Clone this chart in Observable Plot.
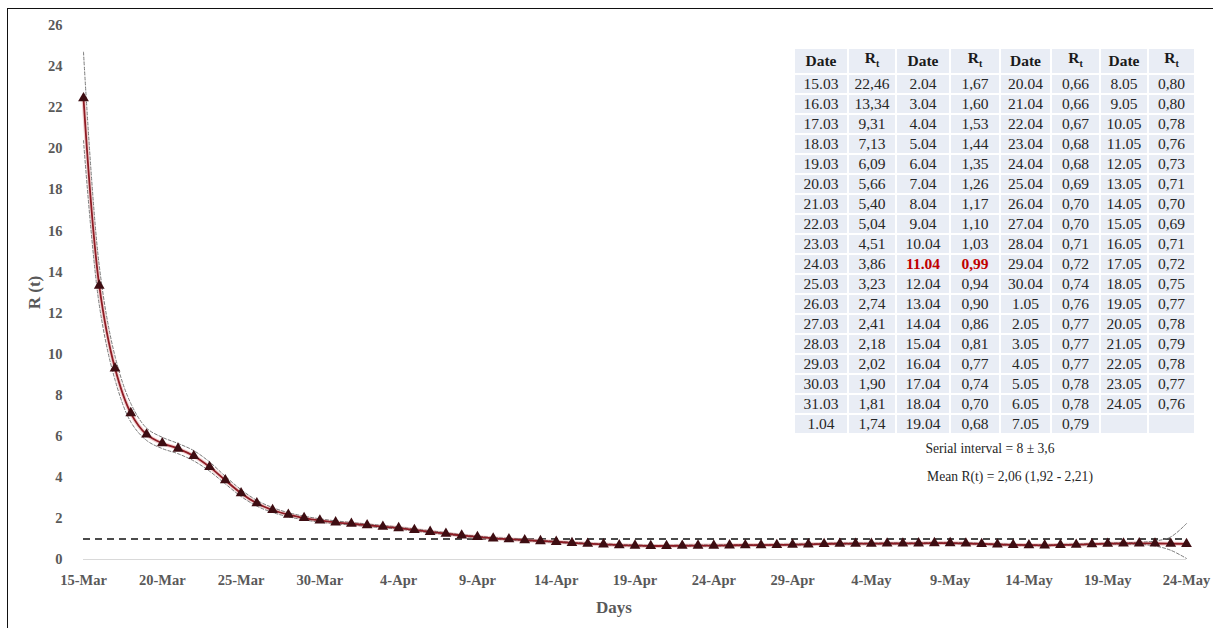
<!DOCTYPE html>
<html>
<head>
<meta charset="utf-8">
<script src="https://cdn.jsdelivr.net/npm/d3@7"></script>
<script src="https://cdn.jsdelivr.net/npm/@observablehq/plot@0.6"></script>
<style>
  html, body { margin: 0; padding: 0; background: #fff; }
  #wrap { position: relative; width: 1213px; height: 628px; overflow: hidden; font-family: "Liberation Serif", "Times New Roman", serif; }
  #frame { position: absolute; left: 7px; top: 8px; width: 1300px; height: 700px; border-left: 1.5px solid #111; border-top: 1.5px solid #111; pointer-events: none; }
  #chart { position: absolute; left: 0; top: 0; }
  #tbl { position: absolute; left: 793px; top: 47px; border-collapse: separate; border-spacing: 2px; font-family: "Liberation Serif", serif; font-size: 15.5px; color: #262626; }
  #tbl td, #tbl th { background: #e9edf5; text-align: center; height: 18px; padding: 0; line-height: 18px; }
  #tbl th { font-weight: bold; color: #1a1a1a; }
  #tbl td.hl { color: #c00000; font-weight: bold; }
  .note { position: absolute; font-family: "Liberation Serif", serif; font-size: 13.6px; color: #262626; white-space: nowrap; transform: translateX(-50%); }
</style>
</head>
<body>
<div id="wrap">
  <div id="chart"></div>
  <table id="tbl"></table>
  <div class="note" style="left:990px; top:441px;">Serial interval = 8 ± 3,6</div>
  <div class="note" style="left:1010px; top:469px;">Mean R(t) = 2,06 (1,92 - 2,21)</div>
  <div id="frame"></div>
</div>
<script>
// ---- data ----
const dateLabels = [
  "15.03","16.03","17.03","18.03","19.03","20.03","21.03","22.03","23.03","24.03","25.03","26.03","27.03","28.03","29.03","30.03","31.03","1.04",
  "2.04","3.04","4.04","5.04","6.04","7.04","8.04","9.04","10.04","11.04","12.04","13.04","14.04","15.04","16.04","17.04","18.04","19.04",
  "20.04","21.04","22.04","23.04","24.04","25.04","26.04","27.04","28.04","29.04","30.04","1.05","2.05","3.05","4.05","5.05","6.05","7.05",
  "8.05","9.05","10.05","11.05","12.05","13.05","14.05","15.05","16.05","17.05","18.05","19.05","20.05","21.05","22.05","23.05","24.05"
];
const rt = [
  22.46,13.34,9.31,7.13,6.09,5.66,5.40,5.04,4.51,3.86,3.23,2.74,2.41,2.18,2.02,1.90,1.81,1.74,
  1.67,1.60,1.53,1.44,1.35,1.26,1.17,1.10,1.03,0.99,0.94,0.90,0.86,0.81,0.77,0.74,0.70,0.68,
  0.66,0.66,0.67,0.68,0.68,0.69,0.70,0.70,0.71,0.72,0.74,0.76,0.77,0.77,0.77,0.78,0.78,0.79,
  0.80,0.80,0.78,0.76,0.73,0.71,0.70,0.69,0.71,0.72,0.75,0.77,0.78,0.79,0.78,0.77,0.76
];
const upperCI = [
  24.7,14.3,9.9,7.6,6.4,5.95,5.65,5.3,4.75,4.05,3.4,2.88,2.53,2.28,2.11,1.98,1.88,
  1.80,1.73,1.66,1.58,1.49,1.40,1.31,1.21,1.14,1.07,1.03,0.97,0.93,0.89,0.84,0.80,0.77,0.73,0.71,
  0.69,0.69,0.70,0.71,0.71,0.72,0.73,0.73,0.74,0.75,0.77,0.79,0.80,0.80,0.80,0.81,0.81,0.82,
  0.83,0.83,0.81,0.79,0.76,0.74,0.73,0.72,0.74,0.75,0.78,0.80,0.82,0.84,0.90,1.10,1.75
];
const lowerCI = [
  20.4,12.4,8.75,6.7,5.8,5.4,5.15,4.8,4.3,3.68,3.07,2.6,2.29,2.08,1.93,1.82,1.74,
  1.68,1.61,1.54,1.48,1.39,1.30,1.21,1.13,1.06,0.99,0.95,0.91,0.87,0.83,0.78,0.74,0.71,0.67,0.65,
  0.63,0.63,0.64,0.65,0.65,0.66,0.67,0.67,0.68,0.69,0.71,0.73,0.74,0.74,0.74,0.75,0.75,0.76,
  0.77,0.77,0.75,0.73,0.70,0.68,0.67,0.66,0.68,0.69,0.72,0.74,0.74,0.74,0.66,0.45,0.05
];
const threshold = [1];
const yTicks = [0,2,4,6,8,10,12,14,16,18,20,22,24,26];
const highlightDate = "11.04";
const year = 2020;

// ---- build ----
const parseLabel = s => { const [d, m] = s.split(".").map(Number); return new Date(Date.UTC(year, m - 1, d)); };
const data = dateLabels.map((s, i) => ({date: parseLabel(s), rt: rt[i], lo: lowerCI[i], hi: upperCI[i]}));
const start = data[0].date, end = data[data.length - 1].date;
const xTicks = d3.utcDay.range(start, d3.utcDay.offset(end, 1), 5);
const fmt = d3.utcFormat("%-d-%b");
const gray = "#595959";

const chart = Plot.plot({
  width: 1213, height: 628,
  marginLeft: 83, marginRight: 27, marginTop: 25, marginBottom: 69,
  style: {fontFamily: "Liberation Serif, serif", fontSize: "14.5px", fontWeight: "bold", color: gray, background: "transparent"},
  x: {type: "utc", domain: [start, end], ticks: xTicks, tickFormat: fmt, tickSize: 0, tickPadding: 15, label: null},
  y: {domain: [0, 26], ticks: yTicks, tickSize: 0, tickPadding: 21, label: "R (t)", labelAnchor: "center", labelOffset: 56, labelArrow: "none"},
  marks: [
    Plot.ruleY([0], {stroke: "#d9d9d9", strokeWidth: 1.2}),
    Plot.ruleY(threshold, {stroke: "#111", strokeWidth: 1.6, strokeDasharray: "7,5"}),
    Plot.line(data, {x: "date", y: "rt", curve: "catmull-rom", stroke: "#eab1b1", strokeWidth: 4, strokeOpacity: 0.6}),
    Plot.line(data, {x: "date", y: "hi", curve: "catmull-rom", stroke: "#7a7a7a", strokeWidth: 1, strokeDasharray: "3,2"}),
    Plot.line(data, {x: "date", y: "lo", curve: "catmull-rom", stroke: "#7a7a7a", strokeWidth: 1, strokeDasharray: "3,2"}),
    Plot.line(data, {x: "date", y: "rt", curve: "catmull-rom", stroke: "#8e1b24", strokeWidth: 1.8}),
    Plot.dot(data, {x: "date", y: "rt", symbol: "triangle", r: 4, fill: "#3e0d12", stroke: "none"}),
    Plot.text(["Days"], {frameAnchor: "bottom", dy: 53, dx: -21, fontSize: 17, fontWeight: "bold", fill: gray})
  ]
});
chart.querySelectorAll("[aria-label='y-axis label'] text").forEach(t => { t.setAttribute("font-size", "17"); });
document.getElementById("chart").appendChild(chart);

// ---- table ----
const rowsPerCol = 18;
const fmtRt = v => v.toFixed(2).replace(".", ",");
const tbl = document.getElementById("tbl");
const colWidths = [52, 46, 52, 48, 49, 47, 46, 45];
let html = "<tr>";
for (let c = 0; c < 4; c++) html += `<th style="width:${colWidths[2*c]}px">Date</th><th style="width:${colWidths[2*c+1]}px">R<sub style="font-size:10px">t</sub></th>`;
html += "</tr>";
for (let r = 0; r < rowsPerCol; r++) {
  html += "<tr>";
  for (let c = 0; c < 4; c++) {
    const i = c * rowsPerCol + r;
    if (i < dateLabels.length) {
      const cls = dateLabels[i] === highlightDate ? ' class="hl"' : "";
      html += `<td${cls}>${dateLabels[i]}</td><td${cls}>${fmtRt(rt[i])}</td>`;
    } else html += "<td></td><td></td>";
  }
  html += "</tr>";
}
tbl.innerHTML = html;
</script>
</body>
</html>
